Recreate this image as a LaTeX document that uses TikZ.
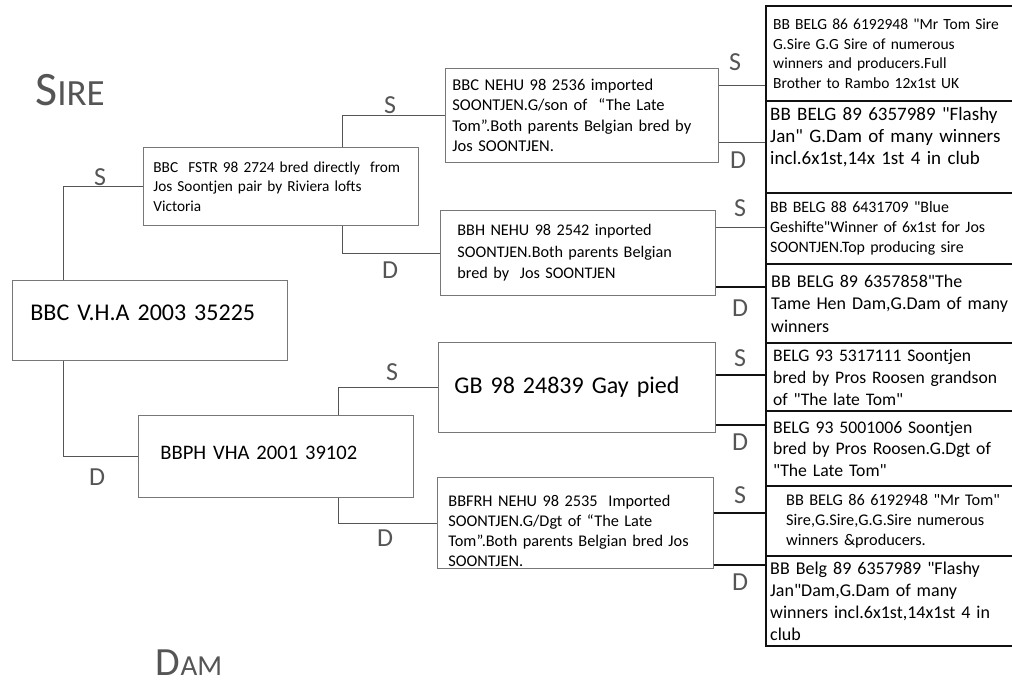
\documentclass[tikz,border=0pt]{standalone}
\usepackage{fontspec}
\setmainfont{Carlito}
\usetikzlibrary{positioning}
\definecolor{Pencil}{HTML}{555555}
\definecolor{Ink}{HTML}{111111}
\tikzset{
    penbox/.style={rectangle, draw=Pencil!80, line width=0.8pt, anchor=north west, align=left, inner ysep=0pt, text=black},
    inkbox/.style={rectangle, draw=Ink, line width=2.4pt, anchor=north west, align=left, inner ysep=0pt, text=black},
    pen/.style={draw=Pencil, line width=0.8pt},
    ink/.style={draw=Ink, line width=2.4pt},
    sdtag/.style={font=\fontsize{26}{26}\selectfont, text=Pencil},
}
\newcommand{\fs}[2]{\fontsize{#1}{#2}\selectfont}
\newcommand{\qq}{\textquotedbl}

\begin{document}
\begin{tikzpicture}[x=1pt, y=-1pt]
    \useasboundingbox (0,0) rectangle (1012,685);

    % Handwritten headings
    \node[text=Pencil, inner sep=0pt] (sire) at (70,90) {{\fs{48}{48}S}{\fs{37}{37}IRE}};
    \node[text=Pencil, inner sep=0pt] (dam) at (189,663) {{\fs{40}{40}D}{\fs{29}{29}AM}};

    % Bird and parents
    \node[penbox, minimum width=275pt, minimum height=80pt, inner xsep=18pt, text width=239pt, text depth=16pt, font=\fs{24}{28}] (root) at (12,280) {BBC V.H.A 2003 35225};
    \node[penbox, minimum width=275pt, minimum height=78pt, inner xsep=10pt, text width=255pt, font=\fs{15.3}{19.5}] (fstr) at (143,147) {BBC\ \ FSTR 98 2724 bred directly\ \ from\\Jos Soontjen pair by Riviera lofts\\Victoria};
    \node[penbox, minimum width=275pt, minimum height=82pt, inner xsep=22pt, text width=231pt, text depth=8pt, font=\fs{20.6}{24}] (bbph) at (138,415) {BBPH VHA 2001 39102};

    % Grandparents
    \node[penbox, minimum width=273pt, minimum height=94pt, inner xsep=7pt, text width=259pt, font=\fs{16.5}{20.5}] (nehu1) at (445,68) {BBC NEHU 98 2536 imported\\SOONTJEN.G/son of\ \ “The Late\\Tom”.Both parents Belgian bred by\\Jos SOONTJEN.};
    \node[penbox, minimum width=275pt, minimum height=85pt, inner xsep=17pt, text width=241pt, font=\fs{16.2}{21.5}] (nehu2) at (440,210) {BBH NEHU 98 2542 inported\\SOONTJEN.Both parents Belgian\\bred by\ \ Jos SOONTJEN};
    \node[penbox, minimum width=277pt, minimum height=90pt, inner xsep=16pt, text width=245pt, font=\fs{24}{28}] (gaypied) at (438,342) {GB 98 24839 Gay pied};
    \node[penbox, minimum width=276pt, minimum height=91pt, inner xsep=11pt, text width=254pt, font=\fs{16.3}{20}] (nehu3) at (437,477) {\rule{0pt}{27pt}BBFRH NEHU 98 2535\ \ Imported\\SOONTJEN.G/Dgt of “The Late\\Tom”.Both parents Belgian bred Jos\\SOONTJEN.};

    % Great-grandparents
    \node[inkbox, minimum width=260pt, minimum height=95pt, inner xsep=7pt, text width=246pt, font=\fs{15.5}{19.5}] (r1) at (765,5) {BB BELG 86 6192948 \qq Mr Tom Sire\\G.Sire G.G Sire of numerous\\winners and producers.Full\\Brother to Rambo 12x1st UK};
    \node[inkbox, minimum width=260pt, minimum height=92pt, inner xsep=4pt, text width=252pt, font=\fs{19}{22}] (r2) at (765,100) {BB BELG 89 6357989 \qq Flashy\\Jan\qq\ G.Dam of many winners\\incl.6x1st,14x 1st 4 in club\rule[-23pt]{0pt}{1pt}};
    \node[inkbox, minimum width=260pt, minimum height=71pt, inner xsep=4pt, text width=252pt, font=\fs{15.9}{20}] (r3) at (765,192) {BB BELG 88 6431709 \qq Blue\\Geshifte\qq Winner of 6x1st for Jos\\SOONTJEN.Top producing sire};
    \node[inkbox, minimum width=260pt, minimum height=79pt, inner xsep=5pt, text width=250pt, font=\fs{18}{22.5}] (r4) at (765,263) {BB BELG 89 6357858\qq The\\Tame Hen Dam,G.Dam of many\\winners};
    \node[inkbox, minimum width=260pt, minimum height=68pt, inner xsep=7pt, text width=246pt, font=\fs{17.6}{22}] (r5) at (765,342) {BELG 93 5317111 Soontjen\\bred by Pros Roosen grandson\\of \qq The late Tom\qq};
    \node[inkbox, minimum width=260pt, minimum height=75pt, inner xsep=7pt, text width=246pt, font=\fs{17.7}{21.7}] (r6) at (765,410) {BELG 93 5001006 Soontjen\\bred by Pros Roosen.G.Dgt of\\\qq The Late Tom\qq};
    \node[inkbox, minimum width=260pt, minimum height=70pt, inner xsep=20pt, text width=220pt, font=\fs{16.3}{20}] (r7) at (765,485) {BB BELG 86 6192948 \qq Mr Tom\qq\\Sire,G.Sire,G.G.Sire numerous\\winners \&producers.};
    \node[inkbox, minimum width=260pt, minimum height=90pt, inner xsep=4pt, text width=252pt, font=\fs{18}{22}] (r8) at (765,555) {BB Belg 89 6357989 \qq Flashy\\Jan\qq Dam,G.Dam of many\\winners incl.6x1st,14x1st 4 in\\club};

    % Pedigree lines
    \draw[pen] ([xshift=51pt]root.north west) |- (fstr.west);
    \draw[pen] ([xshift=51pt]root.south west) |- (bbph.west);
    \draw[pen] ([xshift=-76pt]fstr.north east) |- (nehu1.west);
    \draw[pen] ([xshift=-76pt]fstr.south east) |- (nehu2.west);
    \draw[pen] ([xshift=-75pt]bbph.north east) |- (gaypied.west);
    \draw[pen] ([xshift=-75pt]bbph.south east) |- (nehu3.west);

    \draw[pen] (nehu1.east |- 0,85) -- (r1.west |- 0,85);
    \draw[pen] (nehu1.east |- 0,142) -- (r2.west |- 0,142);
    \draw[pen] (nehu2.east |- 0,227) -- (r3.west |- 0,227);
    \draw[ink] (nehu2.east |- 0,287) -- (r4.west |- 0,287);
    \draw[ink] (gaypied.east |- 0,375) -- (r5.west |- 0,375);
    \draw[ink] (gaypied.east |- 0,425) -- (r6.west |- 0,425);
    \draw[ink] (nehu3.east |- 0,513) -- (r7.west |- 0,513);
    \draw[ink] (nehu3.east |- 0,565) -- (r8.west |- 0,565);

    % S / D marks
    \node[sdtag] (s0) at (100,177) {S};
    \node[sdtag] (d0) at (97,477) {D};
    \node[sdtag] (s1) at (390,105) {S};
    \node[sdtag] (d1) at (390,270) {D};
    \node[sdtag] (s2) at (392,372) {S};
    \node[sdtag] (d2) at (385,538) {D};
    \node[sdtag] (s3) at (735,62) {S};
    \node[sdtag] (d3) at (738,160) {D};
    \node[sdtag] (s4) at (740,208) {S};
    \node[sdtag] (d4) at (740,308) {D};
    \node[sdtag] (s5) at (740,358) {S};
    \node[sdtag] (d5) at (740,442) {D};
    \node[sdtag] (s6) at (740,495) {S};
    \node[sdtag] (d6) at (740,582) {D};
\end{tikzpicture}
\end{document}
